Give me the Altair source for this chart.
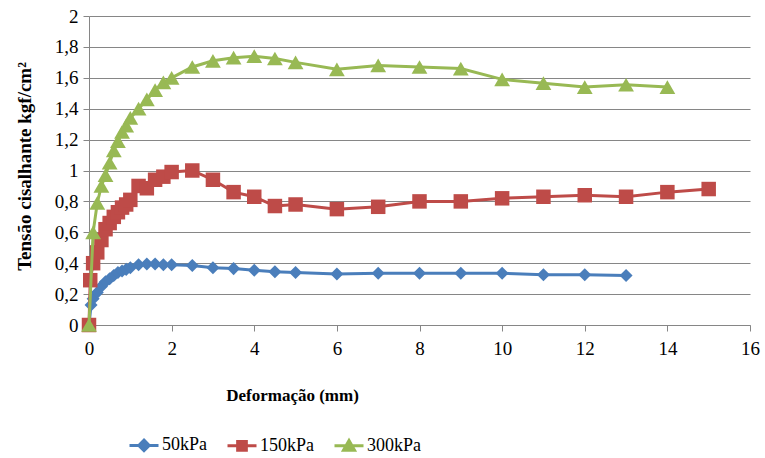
import altair as alt
import pandas as pd

series_names = ["50kPa", "150kPa", "300kPa"]
colors = ["#4A7EBB", "#BE4B48", "#98B954"]

def50_x = [0, 0.05, 0.1, 0.2, 0.3, 0.4, 0.5, 0.6, 0.7, 0.8, 0.9, 1.0, 1.2, 1.4, 1.6, 1.8, 2.0,
           2.5, 3, 3.5, 4, 4.5, 5, 6, 7, 8, 9, 10, 11, 12, 13]
tau50 = [0, 0.13, 0.17, 0.21, 0.25, 0.28, 0.30, 0.32, 0.34, 0.35, 0.36, 0.37, 0.39, 0.395, 0.395,
         0.39, 0.39, 0.385, 0.37, 0.365, 0.355, 0.345, 0.34, 0.33, 0.335, 0.335, 0.335, 0.335,
         0.325, 0.325, 0.32]

def150_x = [0, 0.03, 0.1, 0.2, 0.3, 0.4, 0.5, 0.6, 0.7, 0.8, 0.9, 1.0, 1.2, 1.4, 1.6, 1.8, 2.0,
            2.5, 3, 3.5, 4, 4.5, 5, 6, 7, 8, 9, 10, 11, 12, 13, 14, 15]
tau150 = [0, 0.29, 0.40, 0.47, 0.55, 0.62, 0.66, 0.70, 0.73, 0.76, 0.78, 0.81, 0.90, 0.885, 0.94,
          0.96, 0.99, 1.0, 0.94, 0.86, 0.83, 0.77, 0.78, 0.75, 0.765, 0.80, 0.80, 0.82, 0.83,
          0.84, 0.83, 0.86, 0.88]

def300_x = [0, 0.1, 0.2, 0.3, 0.4, 0.5, 0.6, 0.7, 0.8, 0.9, 1.0, 1.2, 1.4, 1.6, 1.8, 2.0,
            2.5, 3, 3.5, 4, 4.5, 5, 6, 7, 8, 9, 10, 11, 12, 13, 14]
tau300 = [0, 0.60, 0.79, 0.90, 0.97, 1.05, 1.13, 1.19, 1.25, 1.29, 1.34, 1.40, 1.46, 1.52, 1.57,
          1.60, 1.67, 1.71, 1.73, 1.74, 1.725, 1.70, 1.655, 1.68, 1.67, 1.66, 1.59, 1.565, 1.54,
          1.555, 1.54]

x_ticks = [0, 2, 4, 6, 8, 10, 12, 14, 16]
y_ticks = [0, 0.2, 0.4, 0.6, 0.8, 1.0, 1.2, 1.4, 1.6, 1.8, 2.0]

marker_shapes = ["diamond", "square", "triangle-up"]
marker_sizes = [170, 210, 250]
legend_paths = [
    "M-1,0H1M0,-0.36L0.36,0L0,0.36L-0.36,0Z",
    "M-1,0H1M-0.3,-0.3H0.3V0.3H-0.3Z",
    "M-1,0H1M0,-0.36L0.38,0.3L-0.38,0.3Z",
]

frames = []
for name, xs, ys in [(series_names[0], def50_x, tau50),
                     (series_names[1], def150_x, tau150),
                     (series_names[2], def300_x, tau300)]:
    frames.append(pd.DataFrame({"x": xs, "y": ys, "series": name}))
df = pd.concat(frames, ignore_index=True)

FONT = "Liberation Serif"

x_enc = alt.X(
    "x:Q",
    scale=alt.Scale(domain=[0, 16], nice=False),
    axis=alt.Axis(
        values=x_ticks, grid=False, tickSize=6, labelPadding=8, labelFlush=False,
        labelFont=FONT, labelFontSize=19, labelColor="black",
        title="Deformação (mm)", titleFont=FONT, titleFontSize=17,
        titleFontWeight="bold", titleColor="black",
        titleX=203, titleY=70, titleBaseline="middle", titleAlign="center",
        domainColor="#868686", tickColor="#868686",
    ),
)
y_enc = alt.Y(
    "y:Q",
    scale=alt.Scale(domain=[0, 2], nice=False),
    axis=alt.Axis(
        values=y_ticks, grid=True, gridColor="#868686", gridWidth=1,
        tickSize=6, labelPadding=5, labelFlush=False,
        labelFont=FONT, labelFontSize=19, labelColor="black",
        labelExpr="replace(format(datum.value, '.1~f'), '.', ',')",
        title="Tensão cisalhante kgf/cm²", titleFont=FONT, titleFontSize=19,
        titleFontWeight="bold", titleColor="black",
        titleX=-65, titleY=150, titleBaseline="middle", titleAlign="center",
        titleAngle=270,
        domainColor="#868686", tickColor="#868686",
    ),
)

layers = []
for i, name in enumerate(series_names):
    base = alt.Chart(df).transform_filter(alt.datum.series == name)
    layers.append(base.mark_line(color=colors[i], strokeWidth=3).encode(x=x_enc, y=y_enc))
    layers.append(
        base.mark_point(filled=True, opacity=1, color=colors[i], shape=marker_shapes[i],
                        size=marker_sizes[i]).encode(x=x_enc, y=y_enc)
    )

leg = alt.Legend(
    title=None, orient="none", legendX=39, legendY=413, direction="horizontal",
    labelFont=FONT, labelFontSize=18, labelColor="black", labelOffset=2,
    symbolSize=841, symbolStrokeWidth=3, columnPadding=14, labelLimit=200,
)
legend_layer = alt.Chart(df).transform_filter("datum.x < 0").mark_point(
    filled=True, opacity=1
).encode(
    x=x_enc, y=y_enc,
    fill=alt.Fill("series:N", scale=alt.Scale(domain=series_names, range=colors), legend=leg),
    stroke=alt.Stroke("series:N", scale=alt.Scale(domain=series_names, range=colors), legend=leg),
    shape=alt.Shape("series:N", scale=alt.Scale(domain=series_names, range=legend_paths), legend=leg),
)
layers.append(legend_layer)

chart = alt.layer(*layers).properties(
    width=661, height=309,
    autosize=alt.AutoSizeParams(type="none"),
    padding={"left": 89, "top": 16, "right": 15, "bottom": 133},
    background="white",
).configure(
    font=FONT
).configure_axis(
    labelFont=FONT, titleFont=FONT
).configure_legend(
    labelFont=FONT
).configure_view(stroke=None)

chart.save("out.html", embed_options={"renderer": "svg", "actions": False})
